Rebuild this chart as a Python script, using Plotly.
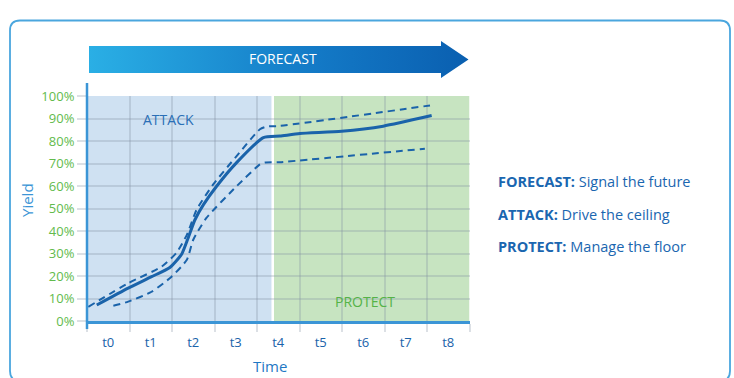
import plotly.graph_objects as go

# ---------------- data ----------------
time_labels = ["t0", "t1", "t2", "t3", "t4", "t5", "t6", "t7", "t8"]
y_ticks = [0, 10, 20, 30, 40, 50, 60, 70, 80, 90, 100]
y_tick_text = [f"{v}%" for v in y_ticks]

forecast_x = [-0.27, 0.47, 1.02, 1.45, 1.73, 1.88, 2.04, 2.24, 2.55, 3.02, 3.65, 4.04, 4.51, 5.49, 6.47, 7.61]
forecast_y = [7.1, 14.6, 19.7, 23.8, 29.8, 36.9, 45.0, 51.7, 59.9, 70.4, 81.5, 82.2, 83.3, 84.3, 86.6, 91.3]

ceiling_x = [-0.47, 0.47, 1.26, 1.6, 1.85, 2.08, 2.47, 3.02, 3.57, 3.73, 4.04, 7.57]
ceiling_y = [6.3, 16.8, 24.2, 30.2, 38.3, 49.5, 60.7, 73.3, 85.2, 86.4, 86.7, 95.8]

floor_x = [0.12, 0.47, 1.02, 1.49, 1.85, 2.0, 2.31, 3.02, 3.57, 3.69, 4.04, 7.45]
floor_y = [6.8, 8.6, 13.0, 19.7, 27.2, 36.1, 45.8, 59.9, 69.6, 70.4, 70.6, 76.6]

attack_span = [-0.5, 3.84]
protect_span = [3.9, 8.5]

legend_lines = [("FORECAST:", "Signal the future"),
                ("ATTACK:", "Drive the ceiling"),
                ("PROTECT:", "Manage the floor")]

# ---------------- styling ----------------
W, H = 734, 378
FONT = "Open Sans"
DARK = "#1a63aa"
AXIS = "#3b95d6"
GREEN = "#62bb4c"
GRID = "rgba(130,145,160,0.28)"

def px(x):
    return x / W

def py(y):
    return 1 - y / H

fig = go.Figure()

line_kw = dict(mode="lines", hoverinfo="skip", showlegend=False)
fig.add_trace(go.Scatter(x=ceiling_x, y=ceiling_y, line=dict(color=DARK, width=2, dash="7px,5px", shape="spline", smoothing=0.55), **line_kw))
fig.add_trace(go.Scatter(x=floor_x, y=floor_y, line=dict(color=DARK, width=2, dash="7px,5px", shape="spline", smoothing=0.55), **line_kw))
fig.add_trace(go.Scatter(x=forecast_x, y=forecast_y, line=dict(color=DARK, width=3, shape="spline", smoothing=0.55), **line_kw))

# arrow (decoration) on a full-figure pixel overlay axis
ax_ = [89, 441, 441, 468.5, 441, 441, 89, 89]
ay_ = [46, 46, 41, 59.5, 78, 73, 73, 46]
fig.add_trace(go.Scatter(x=ax_, y=ay_, xaxis="x2", yaxis="y2", mode="lines", fill="toself",
                         line=dict(width=0), hoverinfo="skip", showlegend=False,
                         fillgradient=dict(type="horizontal",
                                           colorscale=[[0, "#2aafe5"], [0.6, "#1379c6"], [1, "#0a5fb0"]])))

x_dom = [px(87), px(469.5)]
y_dom = [py(321), py(96)]

fig.update_layout(
    width=W, height=H, autosize=False,
    margin=dict(l=0, r=0, t=0, b=0, pad=0),
    paper_bgcolor="white", plot_bgcolor="rgba(0,0,0,0)",
    font=dict(family=FONT),
    showlegend=False,
    xaxis=dict(domain=x_dom, range=[-0.5, 8.5], tickmode="array",
               tickvals=list(range(len(time_labels))), ticktext=time_labels,
               ticks="outside", ticklen=8, tickcolor="rgba(0,0,0,0)",
               tickfont=dict(color=DARK, size=13, family=FONT),
               showgrid=False, zeroline=False, automargin=False,
               showline=True, linecolor=AXIS, linewidth=2.5,
               minor=dict(tickmode="array", tickvals=[i - 0.5 for i in range(len(time_labels) + 1)],
                          ticks="outside", ticklen=8, tickcolor=GRID, tickwidth=1.5,
                          showgrid=True, gridcolor=GRID, gridwidth=1.5),
               fixedrange=True),
    yaxis=dict(domain=y_dom, range=[0, 100], tickmode="array", tickvals=y_ticks, ticktext=y_tick_text,
               ticks="outside", ticklen=9, tickcolor=GRID, tickwidth=1.5,
               tickfont=dict(color=GREEN, size=13, family=FONT), automargin=False,
               showgrid=True, gridcolor=GRID, gridwidth=1.5, zeroline=False, showline=False,
               fixedrange=True),
    xaxis2=dict(domain=[0, 1], range=[0, W], visible=False, anchor="y2", fixedrange=True, automargin=False),
    yaxis2=dict(domain=[0, 1], range=[H, 0], visible=False, anchor="x2", fixedrange=True, automargin=False),
)

# shaded regions
fig.add_shape(type="rect", xref="x", yref="y", x0=attack_span[0], x1=attack_span[1], y0=0, y1=100,
              fillcolor="#cfe1f2", line=dict(width=0), layer="below")
fig.add_shape(type="rect", xref="x", yref="y", x0=protect_span[0], x1=protect_span[1], y0=0, y1=100,
              fillcolor="#c7e4c1", line=dict(width=0), layer="below")

# y-axis line (extends past plot)
fig.add_shape(type="line", xref="paper", yref="paper", x0=px(87), x1=px(87), y0=py(329), y1=py(83),
              line=dict(color=AXIS, width=2.5))

# rounded frame
L, R, T, B, r = 10, 730, 20.5, 381, 10
rx, ry = r / W, r / H
path = (f"M {px(L)+rx},{py(T)} L {px(R)-rx},{py(T)} Q {px(R)},{py(T)} {px(R)},{py(T)-ry} "
        f"L {px(R)},{py(B)+ry} Q {px(R)},{py(B)} {px(R)-rx},{py(B)} "
        f"L {px(L)+rx},{py(B)} Q {px(L)},{py(B)} {px(L)},{py(B)+ry} "
        f"L {px(L)},{py(T)-ry} Q {px(L)},{py(T)} {px(L)+rx},{py(T)} Z")
fig.add_shape(type="path", xref="paper", yref="paper", path=path, line=dict(color="#4aa6de", width=1.8))

# texts
ann = dict(showarrow=False, xanchor="center", yanchor="middle")
fig.add_annotation(x=px(283), y=py(59), xref="paper", yref="paper", text="FORECAST",
                   font=dict(color="white", size=14, family=FONT), **ann)
fig.add_annotation(x=1.41, y=89.4, xref="x", yref="y", text="ATTACK",
                   font=dict(color="#2b6fb6", size=14, family=FONT), **ann)
fig.add_annotation(x=6.04, y=8.6, xref="x", yref="y", text="PROTECT",
                   font=dict(color="#55b347", size=14, family=FONT), **ann)
fig.add_annotation(x=px(27), y=py(200), xref="paper", yref="paper", text="Yield",
                   textangle=-90, font=dict(color=AXIS, size=15, family=FONT), **ann)
fig.add_annotation(x=px(270), y=py(366), xref="paper", yref="paper", text="Time",
                   font=dict(color="#1f78c4", size=15, family=FONT), **ann)

for i, (b, rest) in enumerate(legend_lines):
    fig.add_annotation(x=px(496), y=py(182 + 32 * i), xref="paper", yref="paper",
                       text=f"<b>{b}</b> {rest}", showarrow=False, xanchor="left", yanchor="middle",
                       font=dict(color="#1a66b0", size=14.5, family=FONT))

fig.write_html("out.html")
